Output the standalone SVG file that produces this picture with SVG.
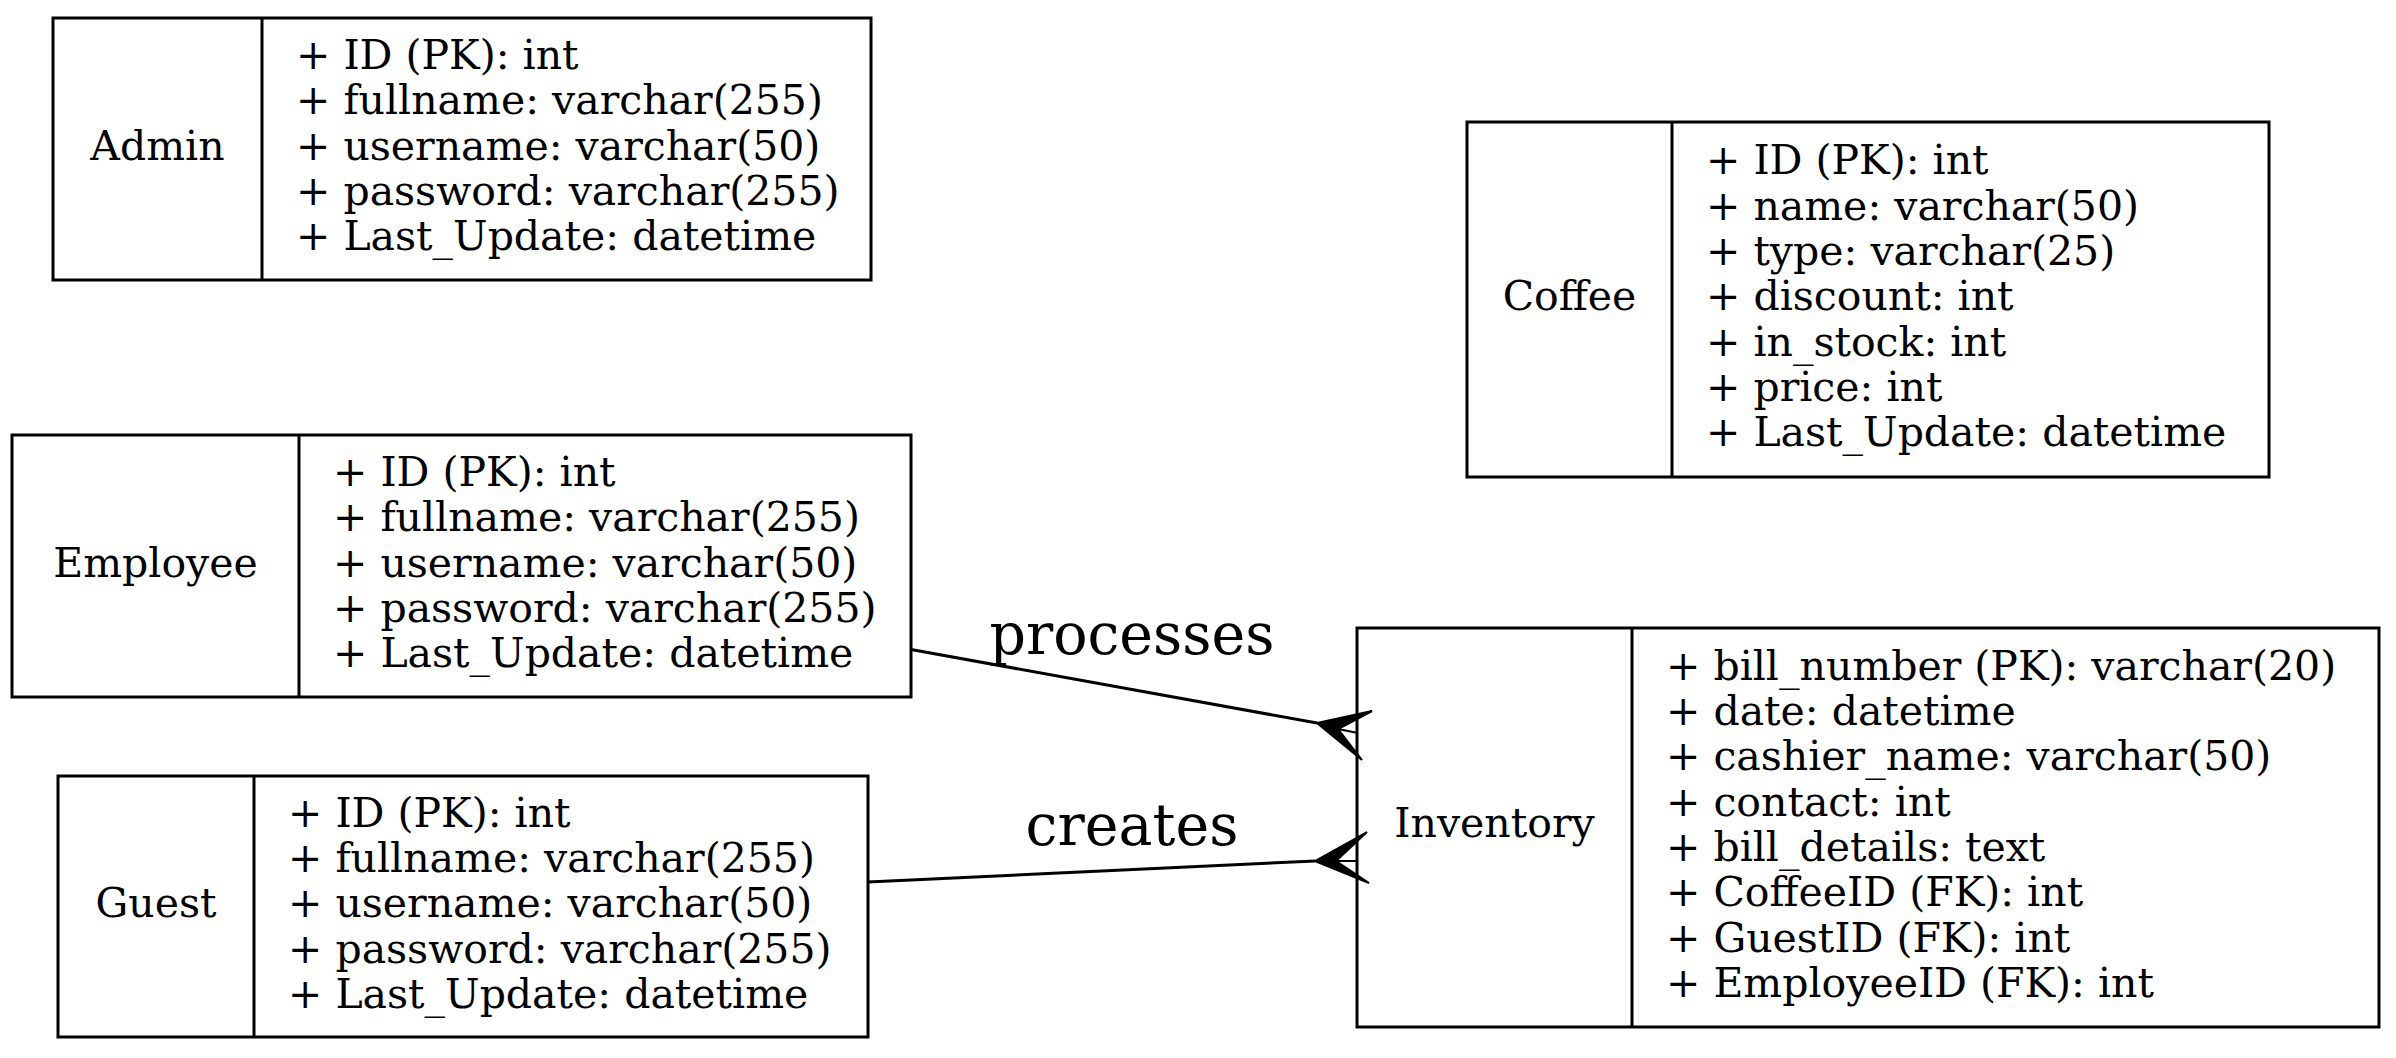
<svg xmlns="http://www.w3.org/2000/svg" width="2396" height="1058" viewBox="0 0 2396 1058">
<style>
.box{fill:none;stroke:#000;stroke-width:3}
.t{font-family:"DejaVu Serif",serif;font-size:41px;fill:#000}
.c{text-anchor:middle}
.el{font-family:"DejaVu Serif",serif;font-size:57px;fill:#000;text-anchor:middle}
.e{fill:none;stroke:#000;stroke-width:3}
.crow{fill:#000;stroke:#000;stroke-width:2;stroke-linejoin:miter}
</style>
<rect width="2396" height="1058" fill="#fff"/>
<g id="admin">
<rect class="box" x="53" y="18" width="818" height="262"/>
<line class="box" x1="262" y1="18" x2="262" y2="280"/>
<text class="t c" x="157.5" y="160">Admin</text>
<text class="t" x="296" y="69">+ ID (PK): int</text>
<text class="t" x="296" y="114">+ fullname: varchar(255)</text>
<text class="t" x="296" y="160">+ username: varchar(50)</text>
<text class="t" x="296" y="205">+ password: varchar(255)</text>
<text class="t" x="296" y="250">+ Last_Update: datetime</text>
</g>
<g id="employee">
<rect class="box" x="12" y="435" width="899" height="262"/>
<line class="box" x1="299" y1="435" x2="299" y2="697"/>
<text class="t c" x="155.5" y="577">Employee</text>
<text class="t" x="333" y="486">+ ID (PK): int</text>
<text class="t" x="333" y="531">+ fullname: varchar(255)</text>
<text class="t" x="333" y="577">+ username: varchar(50)</text>
<text class="t" x="333" y="622">+ password: varchar(255)</text>
<text class="t" x="333" y="667">+ Last_Update: datetime</text>
</g>
<g id="guest">
<rect class="box" x="58" y="776" width="810" height="261"/>
<line class="box" x1="254" y1="776" x2="254" y2="1037"/>
<text class="t c" x="156" y="917">Guest</text>
<text class="t" x="288" y="827">+ ID (PK): int</text>
<text class="t" x="288" y="872">+ fullname: varchar(255)</text>
<text class="t" x="288" y="917">+ username: varchar(50)</text>
<text class="t" x="288" y="963">+ password: varchar(255)</text>
<text class="t" x="288" y="1008">+ Last_Update: datetime</text>
</g>
<g id="coffee">
<rect class="box" x="1467" y="122" width="802" height="355"/>
<line class="box" x1="1672" y1="122" x2="1672" y2="477"/>
<text class="t c" x="1569.5" y="310">Coffee</text>
<text class="t" x="1706" y="174">+ ID (PK): int</text>
<text class="t" x="1706" y="219.5">+ name: varchar(50)</text>
<text class="t" x="1706" y="265">+ type: varchar(25)</text>
<text class="t" x="1706" y="310">+ discount: int</text>
<text class="t" x="1706" y="355.5">+ in_stock: int</text>
<text class="t" x="1706" y="401">+ price: int</text>
<text class="t" x="1706" y="446">+ Last_Update: datetime</text>
</g>
<g id="inventory">
<rect class="box" x="1357" y="628" width="1022" height="399"/>
<line class="box" x1="1632" y1="628" x2="1632" y2="1027"/>
<text class="t c" x="1494.5" y="837">Inventory</text>
<text class="t" x="1666" y="679.5">+ bill_number (PK): varchar(20)</text>
<text class="t" x="1666" y="725">+ date: datetime</text>
<text class="t" x="1666" y="770">+ cashier_name: varchar(50)</text>
<text class="t" x="1666" y="815.5">+ contact: int</text>
<text class="t" x="1666" y="861">+ bill_details: text</text>
<text class="t" x="1666" y="906">+ CoffeeID (FK): int</text>
<text class="t" x="1666" y="951.5">+ GuestID (FK): int</text>
<text class="t" x="1666" y="997">+ EmployeeID (FK): int</text>
</g>
<g id="connectors">
<g id="e-processes">
<path class="e" d="M911,649.5 L1317,723"/>
<polygon class="crow" points="1317,723 1372,711 1338,729 1358,733 1338,729 1362,760"/>
<text class="el" x="1132" y="654">processes</text>
</g>
<g id="e-creates">
<path class="e" d="M868,882 L1315,861"/>
<polygon class="crow" points="1315,861 1367,832 1336,861 1358,861 1336,861 1369,883"/>
<text class="el" x="1132" y="845">creates</text>
</g>
</g>
</svg>
